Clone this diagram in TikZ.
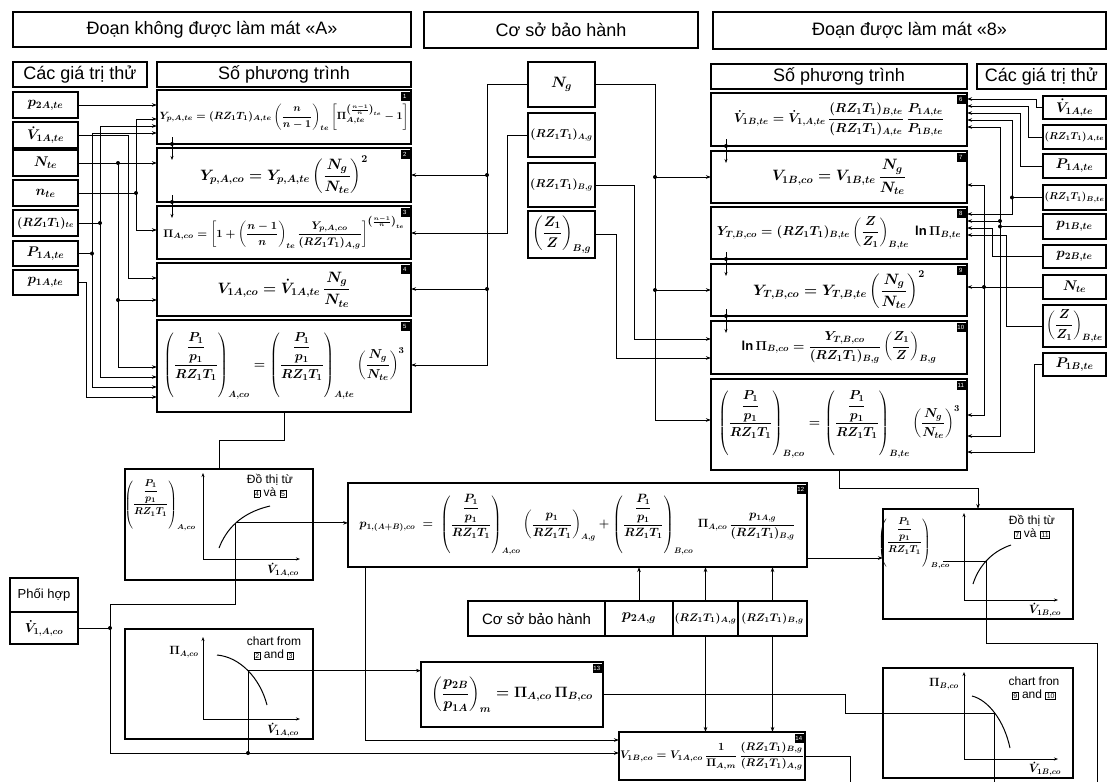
\RequirePackage{fix-cm}
\documentclass[tikz,border=0pt]{standalone}
\usepackage{amsmath}
\usepackage{fontspec}
\setmainfont{Liberation Sans}
\usetikzlibrary{arrows.meta, calc}
\newcommand{\ppr}{\dfrac{\dfrac{P_1}{p_1}}{RZ_1T_1}}
\newcommand{\tg}[1]{{\setlength{\fboxsep}{0.8pt}\setlength{\fboxrule}{0.6pt}\fbox{\fontsize{7}{7}\selectfont #1}}}
\tikzset{wh/.style 2 args={minimum width=#1pt, minimum height=#2pt}}

\begin{document}
\begin{tikzpicture}[x=1pt, y=-1pt,
    box/.style={draw, line width=1.2pt, inner sep=1pt, outer sep=0pt},
    head/.style={box, font=\fontsize{18}{20}\selectfont},
    val/.style={box, font=\fontsize{14}{16}\selectfont\boldmath},
    eq/.style={box, font=\fontsize{15}{18}\selectfont\boldmath},
    chart/.style={box},
    wire/.style={line width=1pt},
    feed/.style={wire, -{Stealth[length=5pt, width=3.5pt]}},
    link/.style={wire, -{Stealth[length=4pt, width=3pt]}},
    axis/.style={line width=0.9pt, {Stealth[length=4pt, width=3pt]}-{Stealth[length=4pt, width=3pt]}},
    tag/.style={draw, fill=black, text=white, inner sep=0.5pt, minimum size=8pt, anchor=north east, xshift=-2pt, yshift=-2pt, font=\fontsize{6}{6}\selectfont},
    note/.style={font=\fontsize{12}{13}\selectfont\boldmath, align=center, inner sep=1pt},
  ]
  \useasboundingbox (0,0) rectangle (1108,782);

  % headings
  \node[head, wh={398}{35}] (hA) at (212,29.5) {Đoạn không được làm mát «A»};
  \node[head, wh={274}{36}] (hM) at (561,30) {Cơ sở bảo hành};
  \node[head, wh={393}{37}] (hB) at (909.5,30.5) {Đoạn được làm mát «8»};
  \node[head, wh={134}{25}] (tvA) at (80,74.5) {Các giá trị thử};
  \node[head, wh={254}{25}] (nrA) at (284,74.5) {Số phương trình};
  \node[head, wh={256}{25}] (nrB) at (839,76.5) {Số phương trình};
  \node[head, wh={129}{25}] (tvB) at (1041.5,76.5) {Các giá trị thử};

  % test values, section A
  \node[val, wh={65}{26}] (L1) at (45.5,105) {$p_{2A,te}$};
  \node[val, wh={65}{26}] (L2) at (45.5,135) {$\dot V_{1A,te}$};
  \node[val, wh={65}{26}] (L3) at (45.5,163) {$N_{te}$};
  \node[val, wh={65}{26}] (L4) at (45.5,193) {$n_{te}$};
  \node[val, wh={65}{26}, font=\fontsize{12}{14}\selectfont\boldmath] (L5) at (45.5,223) {$(RZ_1T_1)_{te}$};
  \node[val, wh={65}{25}] (L6) at (45.5,253.5) {$P_{1A,te}$};
  \node[val, wh={65}{25}] (L7) at (45.5,282.5) {$p_{1A,te}$};

  % equations, section A
  \node[eq, wh={254}{54}, font=\fontsize{10.5}{13}\selectfont\boldmath] (E1) at (284,117) {$Y_{p,A,te}=(RZ_1T_1)_{A,te}\left(\dfrac{n}{n-1}\right)_{te}\left[\Pi_{A,te}^{\left(\frac{n-1}{n}\right)_{te}}-1\right]$};
  \node[eq, wh={254}{54}] (E2) at (284,175) {$Y_{p,A,co}=Y_{p,A,te}\left(\dfrac{N_g}{N_{te}}\right)^{2}$};
  \node[eq, wh={254}{53}, font=\fontsize{11}{14}\selectfont\boldmath] (E3) at (284,232.5) {$\Pi_{A,co}=\left[1+\left(\dfrac{n-1}{n}\right)_{te}\dfrac{Y_{p,A,co}}{(RZ_1T_1)_{A,g}}\right]^{\left(\frac{n-1}{n}\right)_{te}}$};
  \node[eq, wh={254}{53}] (E4) at (284,289.5) {$V_{1A,co}=\dot V_{1A,te}\,\dfrac{N_g}{N_{te}}$};
  \node[eq, wh={254}{92}, font=\fontsize{13}{16}\selectfont\boldmath] (E5) at (284,366) {$\left(\ppr\right)_{A,co}=\left(\ppr\right)_{A,te}\left(\dfrac{N_g}{N_{te}}\right)^{3}$};

  % base values
  \node[val, wh={67}{45}, font=\fontsize{15}{17}\selectfont\boldmath] (M1) at (561.5,84.5) {$N_g$};
  \node[val, wh={67}{44}, font=\fontsize{11.5}{14}\selectfont\boldmath] (M2) at (561.5,135) {$(RZ_1T_1)_{A,g}$};
  \node[val, wh={67}{44}, font=\fontsize{11.5}{14}\selectfont\boldmath] (M3) at (561.5,185) {$(RZ_1T_1)_{B,g}$};
  \node[val, wh={67}{47}] (M4) at (561.5,234.5) {$\left(\dfrac{Z_1}{Z}\right)_{B,g}$};

  % equations, section B
  \node[eq, wh={256}{53}, font=\fontsize{13}{16}\selectfont\boldmath] (F1) at (839,119.5) {$\dot V_{1B,te}=\dot V_{1,A,te}\,\dfrac{(RZ_1T_1)_{B,te}}{(RZ_1T_1)_{A,te}}\,\dfrac{P_{1A,te}}{P_{1B,te}}$};
  \node[eq, wh={256}{52}] (F2) at (839,177) {$V_{1B,co}=V_{1B,te}\,\dfrac{N_g}{N_{te}}$};
  \node[eq, wh={256}{52}, font=\fontsize{13}{16}\selectfont\boldmath] (F3) at (839,233) {$Y_{T,B,co}=(RZ_1T_1)_{B,te}\left(\dfrac{Z}{Z_1}\right)_{B,te}\ \ln\Pi_{B,te}$};
  \node[eq, wh={256}{52}] (F4) at (839,290) {$Y_{T,B,co}=Y_{T,B,te}\left(\dfrac{N_g}{N_{te}}\right)^{2}$};
  \node[eq, wh={256}{53}, font=\fontsize{13}{16}\selectfont\boldmath] (F5) at (839,347.5) {$\ln\Pi_{B,co}=\dfrac{Y_{T,B,co}}{(RZ_1T_1)_{B,g}}\left(\dfrac{Z_1}{Z}\right)_{B,g}$};
  \node[eq, wh={256}{91}, font=\fontsize{13}{16}\selectfont\boldmath] (F6) at (839,424.5) {$\left(\ppr\right)_{B,co}=\left(\ppr\right)_{B,te}\left(\dfrac{N_g}{N_{te}}\right)^{3}$};

  % test values, section B
  \node[val, wh={63}{23}] (R1) at (1074.5,107.5) {$\dot V_{1A,te}$};
  \node[val, wh={63}{24}, font=\fontsize{10}{12}\selectfont\boldmath] (R2) at (1074.5,137) {$(RZ_1T_1)_{A,te}$};
  \node[val, wh={63}{24}] (R3) at (1074.5,166) {$P_{1A,te}$};
  \node[val, wh={63}{25}, font=\fontsize{10}{12}\selectfont\boldmath] (R4) at (1074.5,197.5) {$(RZ_1T_1)_{B,te}$};
  \node[val, wh={63}{25}] (R5) at (1074.5,226.5) {$p_{1B,te}$};
  \node[val, wh={63}{23}] (R6) at (1074.5,256.5) {$p_{2B,te}$};
  \node[val, wh={63}{24}] (R7) at (1074.5,287) {$N_{te}$};
  \node[val, wh={63}{42}, font=\fontsize{13}{15}\selectfont\boldmath] (R8) at (1074.5,326) {$\left(\dfrac{Z}{Z_1}\right)_{B,te}$};
  \node[val, wh={63}{23}] (R9) at (1074.5,364.5) {$P_{1B,te}$};

  % equation numbers
  \node[tag] (n1) at (E1.north east) {1};
  \node[tag] (n2) at (E2.north east) {2};
  \node[tag] (n3) at (E3.north east) {3};
  \node[tag] (n4) at (E4.north east) {4};
  \node[tag] (n5) at (E5.north east) {5};
  \node[tag] (n6) at (F1.north east) {6};
  \node[tag] (n7) at (F2.north east) {7};
  \node[tag] (n8) at (F3.north east) {8};
  \node[tag] (n9) at (F4.north east) {9};
  \node[tag] (n10) at (F5.north east) {10};
  \node[tag] (n11) at (F6.north east) {11};

  % wiring, section A
  \draw[feed] (L1.east) -- (L1.east -| E1.west);
  \draw[feed] (L4.east) -| (136,119) -- (E1.west |- 0,119);
  \draw[feed] (136,193) |- (E3.west |- 0,230);
  \draw[feed] (L5.east) -| (100,126) -- (E1.west |- 0,126);
  \draw[feed] (100,223) |- (E5.west |- 0,377);
  \draw[feed] (L6.east) -| (92,133) -- (E1.west |- 0,133);
  \draw[feed] (92,253.5) |- (E5.west |- 0,387);
  \draw[feed] (L7.east) -| (86,397) -- (E5.west |- 0,397);
  \draw[feed] (L3.east) -- (L3.east -| E2.west);
  \draw[feed] (118,163) |- (E5.west |- 0,367);
  \draw[feed] (118,300) -- (E4.west |- 0,300);
  \draw[feed] (L2.east) -| (128,278) -- (E4.west |- 0,278);
  \foreach \p in {(136,193),(100,223),(92,253.5),(118,163),(118,300)}
    \fill \p circle (2pt);
  \draw[link] ([xshift=-112pt,yshift=7pt]E1.south) -- ([xshift=-112pt,yshift=-12pt]E2.north);
  \draw[link] ([xshift=-112pt,yshift=7pt]E2.south) -- ([xshift=-112pt,yshift=-12pt]E3.north);
  \fill ([xshift=-112pt]E1.south) circle (2pt);
  \fill ([xshift=-112pt]E2.south) circle (2pt);

  % base values to both sections
  \draw[feed] (M1.west) -| (487,365) -- (E5.east |- 0,365);
  \draw[feed] (487,175) -- (E2.east |- 0,175);
  \draw[feed] (487,289) -- (E4.east |- 0,289);
  \draw[feed] (M2.west) -| (507,233) -- (E3.east |- 0,233);
  \draw[feed] (M1.east) -| (655,420) -- (F6.west |- 0,420);
  \draw[feed] (655,177) -- (F2.west |- 0,177);
  \draw[feed] (655,290) -- (F4.west |- 0,290);
  \draw[feed] (M3.east) -| (634,339) -- (F5.west |- 0,339);
  \draw[feed] (M4.east) -| (616,358) -- (F5.west |- 0,358);
  \foreach \p in {(487,175),(487,289),(655,177),(655,290)}
    \fill \p circle (2pt);

  % wiring, section B
  \draw[feed] (R1.west) -| (1036,99) -- (F1.east |- 0,99);
  \draw[feed] (R2.west) -| (1028,106) -- (F1.east |- 0,106);
  \draw[feed] (R3.west) -| (1020,113) -- (F1.east |- 0,113);
  \draw[feed] (R4.west) -| (1012,120) -- (F1.east |- 0,120);
  \draw[feed] (1012,197.5) |- (F3.east |- 0,214);
  \draw[feed] (R5.west) -| (1000,127) -- (F1.east |- 0,127);
  \draw[feed] (1000,221) -- (F3.east |- 0,221);
  \draw[feed] (1000,226.5) |- (F6.east |- 0,436);
  \draw[feed] (R6.west) -| (992,228) -- (F3.east |- 0,228);
  \draw[feed] (R7.west) -- (R7.west -| F4.east);
  \draw[feed] (984,287) |- (F2.east |- 0,185);
  \draw[feed] (984,287) |- (F6.east |- 0,415);
  \draw[feed] (R8.west) -| (1006,235) -- (F3.east |- 0,235);
  \draw[feed] (R9.west) -| (1034,452) -- (F6.east |- 0,452);
  \foreach \p in {(1012,197.5),(1000,221),(1000,226.5),(984,287)}
    \fill \p circle (2pt);
  \draw[link] ([xshift=-113pt,yshift=7pt]F1.south) -- ([xshift=-113pt,yshift=-12pt]F2.north);
  \draw[link] ([xshift=-113pt,yshift=7pt]F3.south) -- ([xshift=-113pt,yshift=-12pt]F4.north);
  \draw[link] ([xshift=-113pt,yshift=7pt]F4.south) -- ([xshift=-113pt,yshift=-12pt]F5.north);
  \fill ([xshift=-113pt]F1.south) circle (2pt);
  \fill ([xshift=-113pt]F3.south) circle (2pt);
  \fill ([xshift=-113pt]F4.south) circle (2pt);

  % charts
  \node[chart, wh={188}{111}] (A1) at (219,524.5) {};
  \draw[axis] (203,473) -- (203,559) -- (300,559);
  \draw[line width=1pt] (219,548) .. controls (226,530) and (240,513) .. (270,506) coordinate[pos=0.5] (pa1);
  \node[note, font=\fontsize{10}{11}\selectfont\boldmath] (A1lab) at (160,505) {$\left(\ppr\right)_{A,co}$};
  \node[note] (A1txt) at (270,486) {Đồ thị từ\\\tg{4} và \tg{5}};
  \node[note] (A1x) at (283,570) {$\dot V_{1A,co}$};

  \node[chart, wh={188}{110}] (A2) at (219,684) {};
  \draw[axis] (203,637) -- (203,719) -- (300,719);
  \draw[line width=1pt] (217,655) .. controls (240,657) and (260,678) .. (267,705) coordinate[pos=0.5] (pa2);
  \node[note] (A2lab) at (184,652) {$\Pi_{A,co}$};
  \node[note] (A2txt) at (274,648) {chart from\\\tg{2} and \tg{3}};
  \node[note] (A2x) at (283,730) {$\dot V_{1A,co}$};

  \node[chart, wh={190}{110}] (B1) at (978,564) {};
  \draw[axis] (964,513) -- (964,600) -- (1058,600);
  \draw[line width=1pt] (973,584) .. controls (978,568) and (990,552) .. (1011,545) coordinate[pos=0.5] (pb1);
  \node[note, font=\fontsize{10}{11}\selectfont\boldmath] (B1lab) at (914,543) {$\left(\ppr\right)_{B,co}$};
  \node[note] (B1txt) at (1032,527) {Đồ thị từ\\\tg{7} và \tg{11}};
  \node[note] (B1x) at (1045,610) {$\dot V_{1B,co}$};

  \node[chart, wh={190}{110}] (B2) at (978,723) {};
  \draw[axis] (964,672) -- (964,759) -- (1058,759);
  \draw[line width=1pt] (972,696) .. controls (988,700) and (1004,720) .. (1010,748) coordinate[pos=0.5] (pb2);
  \node[note] (B2lab) at (944,684) {$\Pi_{B,co}$};
  \node[note] (B2txt) at (1034,688) {chart fron\\\tg{9} and \tg{10}};
  \node[note] (B2x) at (1045,769) {$\dot V_{1B,co}$};

  % matching
  \node[box, wh={68}{34}, font=\fontsize{13}{15}\selectfont] (ph1) at (44,595) {Phối hợp};
  \node[box, wh={68}{32}, font=\fontsize{13}{15}\selectfont\boldmath] (ph2) at (44,628) {$\dot V_{1,A,co}$};

  % combined equations
  \node[eq, wh={459}{84}, font=\fontsize{12}{15}\selectfont\boldmath, inner sep=2pt] (G) at (577.5,525) {$p_{1,(A+B),co}\ =\ \left(\ppr\right)_{A,co}\left(\dfrac{p_1}{RZ_1T_1}\right)_{A,g}+\left(\ppr\right)_{B,co}\,\Pi_{A,co}\,\dfrac{p_{1A,g}}{(RZ_1T_1)_{B,g}}$};
  \node[head, wh={137}{35}, font=\fontsize{15}{17}\selectfont] (b0) at (536.5,618.5) {Cơ sở bảo hành};
  \node[val, wh={68}{35}, font=\fontsize{15}{17}\selectfont\boldmath] (b1) at (639,618.5) {$p_{2A,g}$};
  \node[val, wh={65}{35}, font=\fontsize{11}{13}\selectfont\boldmath] (b2) at (705.5,618.5) {$(RZ_1T_1)_{A,g}$};
  \node[val, wh={69}{35}, font=\fontsize{11}{13}\selectfont\boldmath] (b3) at (772.5,618.5) {$(RZ_1T_1)_{B,g}$};
  \node[eq, wh={182}{65}] (R) at (512,694.5) {$\left(\dfrac{p_{2B}}{p_{1A}}\right)_{m}=\Pi_{A,co}\,\Pi_{B,co}$};
  \node[eq, wh={180}{48}, font=\fontsize{11}{13}\selectfont\boldmath] (V) at (712,756) {$V_{1B,co}=V_{1A,co}\,\dfrac{1}{\Pi_{A,m}}\,\dfrac{(RZ_1T_1)_{B,g}}{(RZ_1T_1)_{A,g}}$};
  \node[tag] (n12) at (G.north east) {12};
  \node[tag] (n13) at (R.north east) {13};
  \node[tag] (n14) at (V.north east) {14};

  % wiring, lower part
  \draw[wire] (E5.south) -- (284,440) -| (A1.north);
  \draw[feed] (pa1) -- (pa1 -| G.west);
  \draw[feed] (pa1) |- (110,604) |- (V.west |- 0,753);
  \draw[wire] (ph2.east) -- (110,628);
  \fill (110,628) circle (2pt);
  \draw[feed] (pa2) -- (pa2 -| R.west);
  \draw[wire] (pa2 |- 0,753) -- (pa2);
  \fill (pa2 |- 0,753) circle (2pt);
  \draw[feed] ([xshift=-212pt]G.south) |- (V.west |- 0,740);
  \draw[feed] (b1.north) -- (b1.north |- G.south);
  \draw[feed] (b2.north) -- (b2.north |- G.south);
  \draw[feed] (b3.north) -- (b3.north |- G.south);
  \draw[feed] (b2.south) -- (b2.south |- V.north);
  \draw[feed] (b3.south) -- (b3.south |- V.north);
  \draw[feed] ([yshift=-33pt]G.east) -- ([yshift=-33pt]G.east -| B1.west);
  \draw[feed] (F6.south) -- (839,488) -| (B1.north);
  \draw[wire] (pb1 -| 943,0) -- (pb1) |- (1097,643) -- (1097,782);
  \draw[wire] (R.east) -- (845,694.5) |- (pb2) -- (pb2 |- 0,782);
  \draw[wire] (V.east) -| (850,782);
\end{tikzpicture}
\end{document}
